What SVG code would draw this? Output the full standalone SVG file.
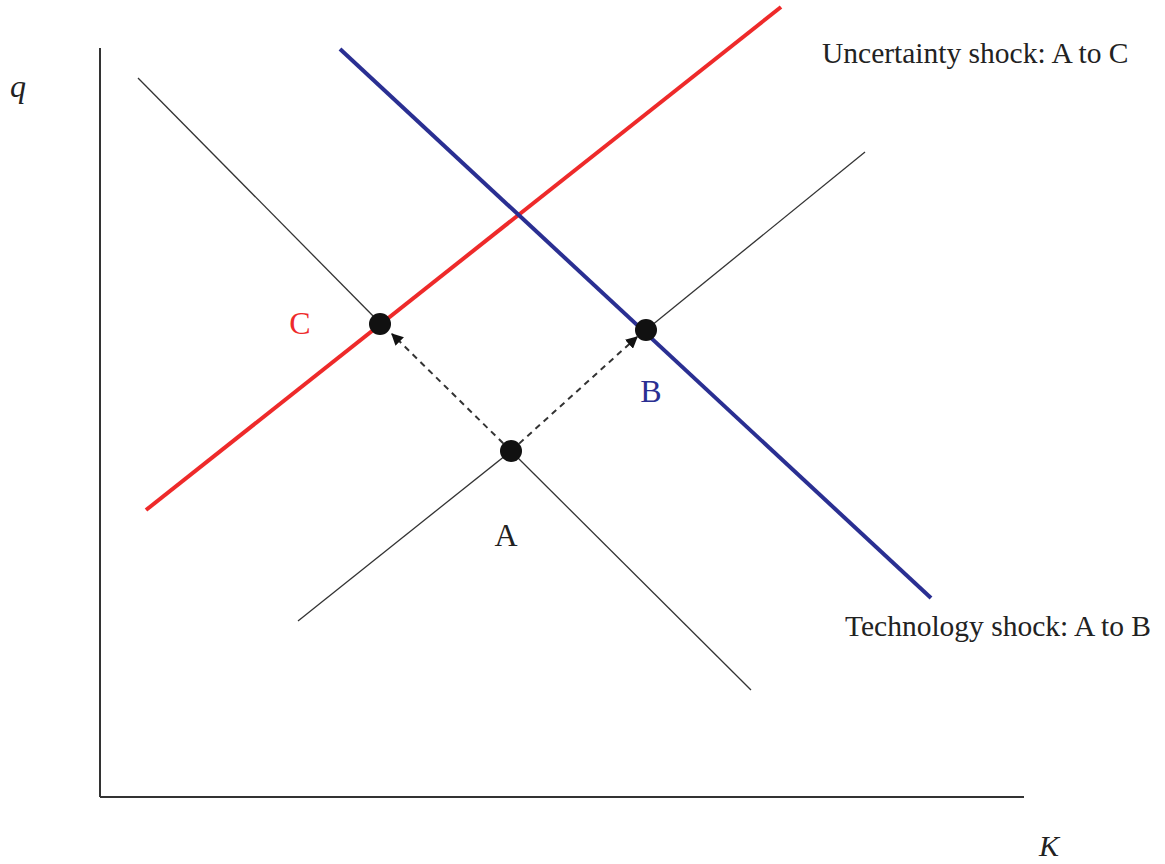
<svg xmlns="http://www.w3.org/2000/svg" width="1165" height="864" viewBox="0 0 1165 864">
<style>
.ax{stroke:#333;stroke-width:2;fill:none}
.gr{stroke:#333;stroke-width:1.3;fill:none}
.dash{stroke:#333;stroke-width:2;stroke-dasharray:6,5;fill:none}
.t{font-family:"Liberation Serif","Times New Roman",serif;font-size:29.5px;fill:#222}
.dot{fill:#111}
</style>
<defs>
<marker id="ah" viewBox="0 0 10 10" refX="9" refY="5" markerWidth="6" markerHeight="6" orient="auto" markerUnits="strokeWidth">
<path d="M0,0 L10,5 L0,10 z" fill="#111"/>
</marker>
</defs>
<g id="axes">
<line class="ax" x1="100" y1="48" x2="100" y2="797"/>
<line class="ax" x1="100" y1="797" x2="1024" y2="797"/>
</g>
<g id="curves">
<line class="gr" x1="138" y1="78" x2="380" y2="323"/>
<line class="gr" x1="511" y1="451" x2="751" y2="690"/>
<line class="gr" x1="298" y1="621" x2="511" y2="451"/>
<line class="gr" x1="646" y1="330" x2="865" y2="152"/>
<line x1="146" y1="510" x2="781" y2="7" stroke="#ee2a2a" stroke-width="4"/>
<line x1="340" y1="49" x2="931" y2="598" stroke="#2a2f92" stroke-width="4"/>
</g>
<g id="connectors">
<line class="dash" x1="511" y1="451" x2="392" y2="334" marker-end="url(#ah)"/>
<line class="dash" x1="511" y1="451" x2="637" y2="337" marker-end="url(#ah)"/>
</g>
<g id="pointA"><circle class="dot" cx="511" cy="451" r="11"/><text class="t" x="506" y="546" text-anchor="middle" style="font-size:32px">A</text></g>
<g id="pointB"><circle class="dot" cx="646" cy="330" r="11"/><text class="t" x="651" y="402" text-anchor="middle" style="fill:#2a2f92;font-size:32px">B</text></g>
<g id="pointC"><circle class="dot" cx="380" cy="324" r="11"/><text class="t" x="300" y="334" text-anchor="middle" style="fill:#ee2a2a;font-size:32px">C</text></g>
<g id="labels">
<text class="t" x="10" y="97" style="font-style:italic;font-size:32px">q</text>
<text class="t" x="1039" y="856" style="font-style:italic;font-size:30px">K</text>
<text class="t" x="822" y="63">Uncertainty shock: A to C</text>
<text class="t" x="845" y="636">Technology shock: A to B</text>
</g>
</svg>
